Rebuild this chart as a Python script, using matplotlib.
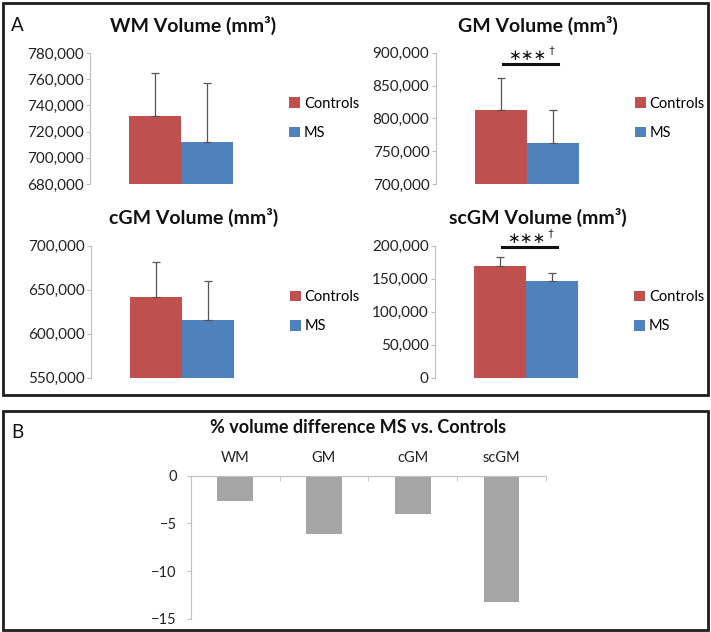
import numpy as np
import matplotlib
matplotlib.use('Agg')
import matplotlib.pyplot as plt
from matplotlib.patches import Rectangle
from matplotlib.ticker import FuncFormatter

plt.rcParams['font.family'] = ['Lato', 'DejaVu Sans']

# Datos del panel A (media y desviacion, mm3)
regiones = ['WM', 'GM', 'cGM', 'scGM']
titulos = ['WM Volume (mm\u00b3)', 'GM Volume (mm\u00b3)', 'cGM Volume (mm\u00b3)', 'scGM Volume (mm\u00b3)']
controles = [732000, 812000, 642000, 170000]
controles_sd = [32500, 49500, 39000, 13000]
ms = [712000, 762000, 616000, 147000]
ms_sd = [45000, 51000, 43500, 11500]
ylims = [(680000, 780000), (700000, 900000), (550000, 700000), (0, 200000)]
ypasos = [20000, 50000, 50000, 50000]
significativo = [False, True, False, True]

# Datos del panel B (% diferencia MS vs controles)
categorias = ['WM', 'GM', 'cGM', 'scGM']
diferencia = [-2.62, -6.12, -4.02, -13.28]

W, H = 711, 632
def caja(l, t, r, b):
    return [l / W, 1 - b / H, (r - l) / W, (b - t) / H]

fig = plt.figure(figsize=(W / 100, H / 100), dpi=100)

# marcos de los paneles
for (l, t, r, b) in [(3, 3, 708, 395), (3, 411, 708, 630)]:
    fig.patches.append(Rectangle((l / W, 1 - b / H), (r - l) / W, (b - t) / H,
                                 transform=fig.transFigure, fill=False,
                                 edgecolor='#1e1e1e', linewidth=2))

posiciones = [(90, 53, 272, 184), (435.7, 52.7, 617.7, 184),
              (90.7, 245.7, 272.7, 377.7), (435, 245.7, 617, 377.7)]
gris = '#BFBFBF'
w = 1 / 3.5

for i in range(4):
    ax = fig.add_axes(caja(*posiciones[i]))
    ax.bar(-w / 2, controles[i], w, color='#C0504D', label='Controls', zorder=2)
    ax.bar(w / 2, ms[i], w, color='#4F81BD', label='MS', zorder=2)
    ax.errorbar([-w / 2, w / 2], [controles[i], ms[i]],
                yerr=[[0, 0], [controles_sd[i], ms_sd[i]]], fmt='none',
                ecolor='#555555', elinewidth=0.9, capsize=3, capthick=0.9, zorder=3)
    ax.set_xlim(-0.5, 0.5)
    ax.set_ylim(*ylims[i])
    ax.set_yticks(np.arange(ylims[i][0], ylims[i][1] + 1, ypasos[i]))
    ax.yaxis.set_major_formatter(FuncFormatter(lambda v, p: '{:,.0f}'.format(v)))
    ax.set_xticks([])
    for s in ['top', 'right', 'bottom']:
        ax.spines[s].set_visible(False)
    ax.spines['left'].set_color(gris)
    ax.tick_params(axis='y', length=3, color=gris, pad=1.5, labelsize=11, labelcolor='#222222')
    ax.text(0.564, 1.21, titulos[i], transform=ax.transAxes, ha='center', va='center',
            fontsize=14, fontweight='bold', color='#111111')
    ax.legend(loc='center left', bbox_to_anchor=(1.055, 0.5), frameon=False,
              handlelength=0.75, handleheight=0.75, handletextpad=0.25,
              labelspacing=1.05, borderpad=0, fontsize=10.5)
    if significativo[i]:
        y0, y1 = ylims[i]
        ylinea = y1 - 0.085 * (y1 - y0) if i == 1 else y1 - 0.0075 * (y1 - y0)
        ax.plot([-0.13, 0.17], [ylinea, ylinea], color='#111111', lw=2.2, clip_on=False, zorder=4)
        yast = ylinea + 0.065 * (y1 - y0)
        ax.text(0.0, yast, '\u2217\u2217\u2217', ha='center', va='center', fontsize=11,
                family='DejaVu Sans', color='#111111', clip_on=False)
        ax.text(0.135, yast + 0.035 * (y1 - y0), '\u2020', ha='center', va='center',
                fontsize=7.5, color='#111111', clip_on=False)

fig.text(17 / W, 1 - 25.5 / H, 'A', ha='center', va='center', fontsize=13.5, color='#111111')
fig.text(17 / W, 1 - 432 / H, 'B', ha='center', va='center', fontsize=13.5, color='#111111')

# Panel B
axb = fig.add_axes(caja(190.7, 475.7, 546, 618.7))
xc = np.arange(len(categorias)) + 0.5
axb.bar(xc, diferencia, 0.4, color='#A5A5A5', zorder=2)
axb.set_xlim(0, 4)
axb.set_ylim(-15, 0)
axb.set_yticks([0, -5, -10, -15])
axb.xaxis.tick_top()
axb.set_xticks(xc)
axb.set_xticklabels(categorias)
axb.set_xticks([1, 2, 3, 4], minor=True)
axb.tick_params(axis='x', which='major', length=0, pad=8, labelsize=10.5, labelcolor='#222222')
axb.tick_params(axis='x', which='minor', direction='in', length=3.5, color=gris)
axb.tick_params(axis='y', length=3, color=gris, pad=7, labelsize=10.5, labelcolor='#222222')
for s in ['bottom', 'right']:
    axb.spines[s].set_visible(False)
axb.spines['left'].set_color(gris)
axb.spines['top'].set_color(gris)
axb.text(0.471, 1.34, '% volume difference MS vs. Controls', transform=axb.transAxes,
         ha='center', va='center', fontsize=13, fontweight='bold', color='#111111')

fig.savefig('out.png', dpi=100)
